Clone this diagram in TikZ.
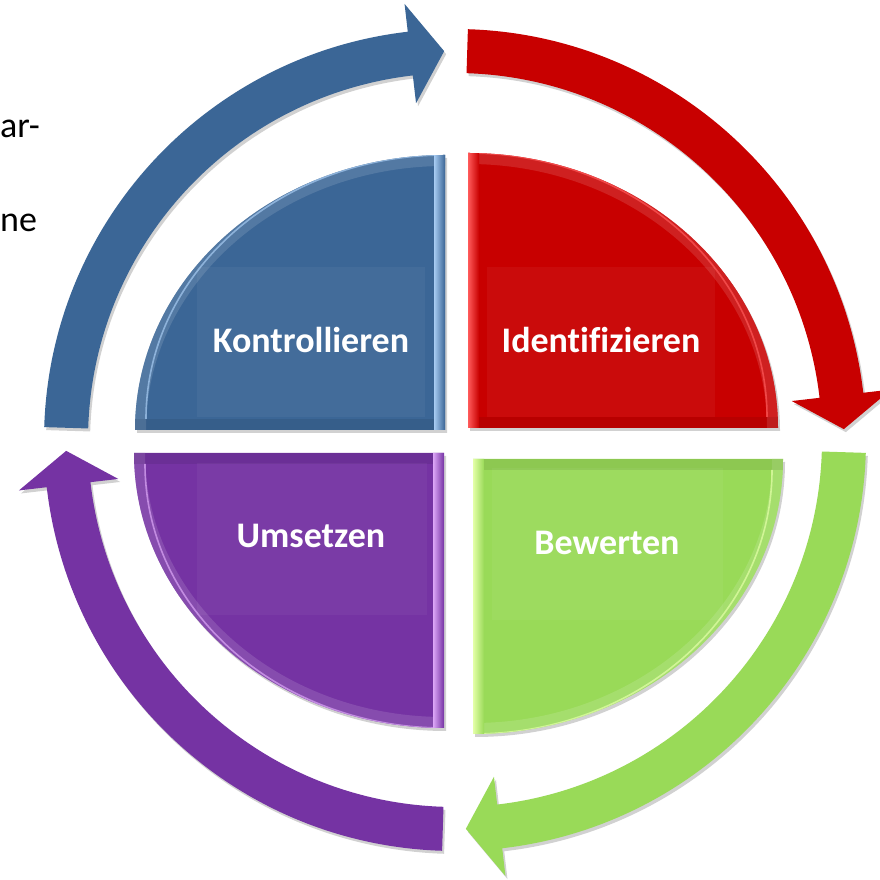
\documentclass[tikz,border=0pt]{standalone}
\usepackage{fontspec}
\setmainfont{Carlito}[Ligatures=NoCommon]
\usetikzlibrary{shadows}
\definecolor{cblue}{HTML}{3B6696}
\definecolor{lblue}{HTML}{A7CBF2}
\definecolor{cred}{HTML}{C80000}
\definecolor{lred}{HTML}{FF5A5A}
\definecolor{cgreen}{HTML}{99DA58}
\definecolor{lgreen}{HTML}{E4FFA8}
\definecolor{cpurple}{HTML}{7533A3}
\definecolor{lpurple}{HTML}{DCA6F7}
\tikzset{
  label text/.style={text=white, font=\fontsize{36}{40}\selectfont\bfseries, inner sep=0pt, anchor=base},
  side text/.style={text=black, font=\fontsize{36}{40}\selectfont, inner sep=0pt},
  softshadow/.style={drop shadow={opacity=0.18, shadow xshift=2pt, shadow yshift=-3pt, fill=black}},
  textbox/.style={fill=white, fill opacity=0.045}
}
\newcommand{\quadrant}[4]{% #1 corner, #2 xscale/yscale, #3 main, #4 light
  \begin{scope}[shift={#1}, #2]
    \fill[#3, softshadow] (0,0) -- (310,0) arc[start angle=0, end angle=90, x radius=310, y radius=275] -- cycle;
    \begin{scope}
      \clip (0,0) -- (310,0) arc[start angle=0, end angle=90, x radius=310, y radius=275] -- cycle;
      \draw[#3!75!white, opacity=0.5, line width=22] (310,0) arc[start angle=0, end angle=90, x radius=310, y radius=275];
      \draw[#4, opacity=0.7, line width=1.6] (299,11) arc[start angle=0, end angle=90, x radius=299, y radius=264];
      \shade[left color=#4, right color=#3] (0,0) rectangle (11,275);
      \fill[black, opacity=0.08] (11,0) rectangle (310,11);
    \end{scope}
  \end{scope}
}
\begin{document}
\begin{tikzpicture}[x=1pt,y=1pt]
\useasboundingbox (0,0) rectangle (880,880);
\fill[white] (0,0) rectangle (880,880);

% ring arrows
\foreach \S/\col in {180/cblue, 90/cred, 0/cgreen, -90/cpurple}{
  \fill[\col, softshadow, shift={(455,440)}]
    ({\S-1.8}:411) arc[start angle=\S-1.8, end angle=\S-83.4, radius=411]
    -- ({\S-83.4}:439) -- ({\S-88.4}:389) -- ({\S-83.4}:339) -- ({\S-83.4}:367)
    arc[start angle=\S-83.4, end angle=\S-1.8, radius=367] -- cycle;
}

% quadrants
\quadrant{(445,450)}{xscale=-1}{cblue}{lblue}
\quadrant{(468,452)}{}{cred}{lred}
\quadrant{(473,421)}{yscale=-1}{cgreen}{lgreen}
\quadrant{(444,427)}{xscale=-1,yscale=-1}{cpurple}{lpurple}

% text boxes
\fill[textbox] (197,463) rectangle (425,613);
\fill[textbox] (487,463) rectangle (715,613);
\fill[textbox] (197,265) rectangle (427,417);
\fill[textbox] (492,260) rectangle (723,412);

% labels
\node[label text] (kon) at (311,527) {Kontrollieren};
\node[label text] (ide) at (601,527) {Identifizieren};
\node[label text] (ums) at (311,332) {Umsetzen};
\node[label text] (bew) at (607,325) {Bewerten};

% side text fragments
\node[side text, anchor=base east] (s1) at (40,742) {ar-};
\node[side text, anchor=base west] (s2) at (0,648) {ne};
\end{tikzpicture}
\end{document}
